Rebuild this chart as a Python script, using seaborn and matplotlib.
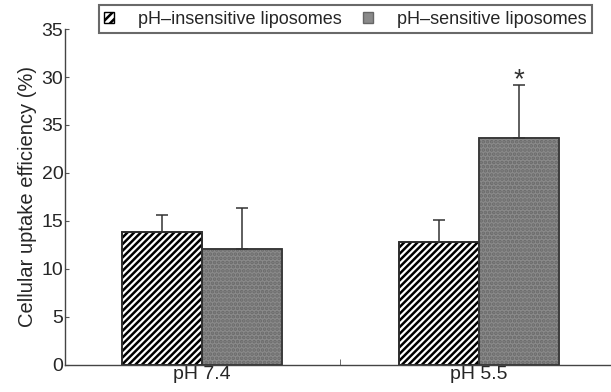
import numpy as np
import pandas as pd
import matplotlib
matplotlib.use("Agg")
import matplotlib.pyplot as plt
import seaborn as sns
from matplotlib.patches import Patch

# data
groups = ["pH 7.4", "pH 5.5"]
series = ["pH\u2013insensitive liposomes", "pH\u2013sensitive liposomes"]
insensitive = [13.85, 12.8]
sensitive = [12.1, 23.6]
insensitive_err = [1.75, 2.3]
sensitive_err = [4.25, 5.6]
ytick_vals = [0, 5, 10, 15, 20, 25, 30, 35]
ytick_labels = ["0", "5", "10", "15", "20", "35", "30", "35"]

df = pd.DataFrame({
    "group": groups * 2,
    "series": [series[0]] * 2 + [series[1]] * 2,
    "value": insensitive + sensitive,
    "err": insensitive_err + sensitive_err,
})

sns.set_style("ticks")
plt.rcParams["font.family"] = ["Liberation Sans", "DejaVu Sans"]
plt.rcParams["hatch.linewidth"] = 1.8

fig = plt.figure(figsize=(6.11, 3.92), dpi=100)
ax = fig.add_axes([0.106, 0.069, 0.894, 0.857])

sns.barplot(data=df, x="group", y="value", hue="series", hue_order=series,
            order=groups, palette=["white", "#8a8a8a"], width=0.578,
            edgecolor="#222222", linewidth=1.2, errorbar=None, legend=False, ax=ax)

hatches = ["/////", "...."]
fills = ["white", "#8a8a8a"]
hatch_cols = ["black", "#6a6a6a"]
bar_containers = list(ax.containers)
for i, cont in enumerate(bar_containers):
    errs = df[df["series"] == series[i]]["err"].tolist()
    for bar, e in zip(cont, errs):
        bar.set_hatch(hatches[i])
        bar.set_facecolor(fills[i])
        bar.set_edgecolor(hatch_cols[i])
        cx = bar.get_x() + bar.get_width() / 2
        h = bar.get_height()
        ax.errorbar(cx, h, yerr=[[0], [e]], color="#333333", capsize=4,
                    elinewidth=1.1, capthick=1.1, zorder=1)
        # outline on top of hatch
        ax.add_patch(plt.Rectangle((bar.get_x(), 0), bar.get_width(), h,
                                   fill=False, edgecolor="#333333", linewidth=1.2, zorder=3))

# significance star on the pH 5.5 sensitive bar
star_bar = bar_containers[1][1]
ax.text(star_bar.get_x() + star_bar.get_width() / 2,
        sensitive[1] + sensitive_err[1] - 0.9, "*", ha="center", va="bottom",
        fontsize=20, color="#333333")

ax.set_ylim(0, 35)
ax.set_xlim(-0.495, 1.477)
ax.set_yticks(ytick_vals)
ax.set_yticklabels(ytick_labels, fontsize=14)
ax.set_xticks([0, 1])
ax.set_xticklabels(groups, fontsize=14)
ax.set_xticks([0.5], minor=True)
ax.tick_params(axis="x", which="major", length=0, pad=1)
ax.tick_params(axis="x", which="minor", direction="in", length=4, color="#555555")
ax.tick_params(axis="y", direction="in", length=3, pad=1, color="#555555")
ax.set_xlabel("")
ax.set_ylabel("Cellular uptake efficiency (%)", fontsize=14.5, labelpad=3)
sns.despine(ax=ax, right=True, top=True)
for s in ["left", "bottom"]:
    ax.spines[s].set_color("#444444")
    ax.spines[s].set_linewidth(1.0)

handles = [Patch(facecolor="white", edgecolor="black", hatch="////"),
           Patch(facecolor="#8a8a8a", edgecolor="#666666")]
leg = fig.legend(handles, series, loc="upper left", bbox_to_anchor=(0.162, 0.986),
                 ncol=2, frameon=True, fancybox=False, fontsize=13,
                 handlelength=0.55, handleheight=0.55, handletextpad=1.3,
                 columnspacing=1.2, borderpad=0.3, borderaxespad=0)
leg.get_frame().set_edgecolor("#444444")
leg.get_frame().set_linewidth(1.5)

fig.savefig("out.png", dpi=100)
